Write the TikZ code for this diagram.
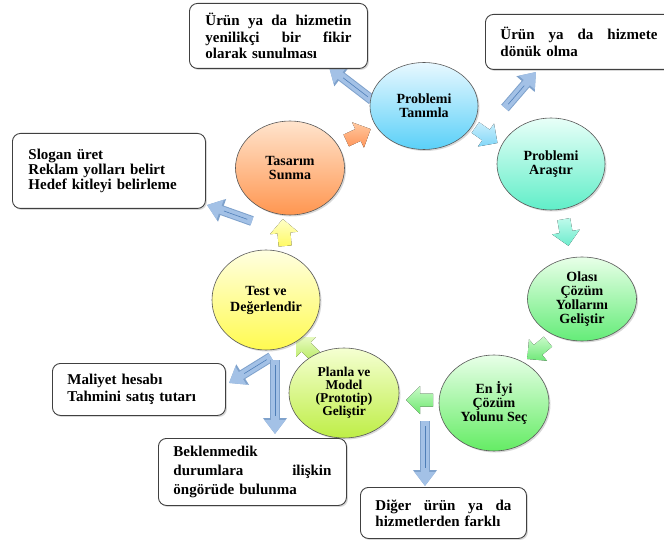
\documentclass[tikz,border=0pt]{standalone}
\usepackage{fontspec}
\setmainfont{Liberation Serif}
\usetikzlibrary{shapes.geometric,shadows,arrows.meta,calc}
\newcommand{\jline}[1]{{\spaceskip=0.3333em plus 1fil\relax\makebox[\hsize][s]{#1}}}
\definecolor{arrowfill}{HTML}{A3C1E6}
\definecolor{arrowedge}{HTML}{7FA2CC}
\definecolor{arrowcenter}{HTML}{4F7FB8}
\tikzset{
  ell/.style={ellipse, draw=black!65, line width=0.6pt, align=center,
    font=\fontsize{14}{14}\selectfont\bfseries, inner sep=0pt,
    drop shadow={shadow xshift=1.5pt, shadow yshift=-1.5pt, opacity=0.3}},
  infobox/.style={draw=black!75, line width=0.9pt, rounded corners=8pt, fill=white,
    align=left, anchor=north west, inner ysep=3pt,
    font=\fontsize{15}{16.5}\selectfont\bfseries,
    drop shadow={shadow xshift=1.5pt, shadow yshift=-1.5pt, opacity=0.3}},
  bigarrow/.style={line width=10pt, arrowedge, -{Triangle[width=23pt,length=16pt]}},
  bigarrowin/.style={line width=8pt, arrowfill, -{Triangle[width=20pt,length=14pt]}},
  fatarrow/.pic={\fill[pic actions] (-13,-6.5) -- (0,-6.5) -- (0,-14) -- (14,0) -- (0,14) -- (0,6.5) -- (-13,6.5) -- cycle;}
}
\newcommand{\blockarrow}[2]{%
  \draw[bigarrow] (#1) -- (#2);
  \draw[bigarrowin] (#1) -- (#2);
  \draw[arrowcenter, line width=0.6pt, shorten <=5pt, shorten >=18pt] (#1) -- (#2);}
\begin{document}
\begin{tikzpicture}[x=1pt,y=-1pt]
\fill[white] (0,0) rectangle (664,545);
\useasboundingbox (0,0) rectangle (664,545);

% arrow end coordinates
\coordinate (aT) at (372,100); \coordinate (aH) at (329,67);
\coordinate (bT) at (505,108); \coordinate (bH) at (536,72);
\coordinate (cT) at (252,221); \coordinate (cH) at (207,205);
\coordinate (dT) at (271,357); \coordinate (dH) at (229,383);
\coordinate (eT) at (275,360); \coordinate (eH) at (275,434);
\coordinate (fT) at (425,421); \coordinate (fH) at (425,486);

\blockarrow{aT}{aH}
\blockarrow{bT}{bH}
\blockarrow{cT}{cH}
\blockarrow{dT}{dH}
\blockarrow{eT}{eH}
\blockarrow{fT}{fH}

% small cycle arrows
\pic[top color={rgb,255:red,255;green,200;blue,160}, bottom color={rgb,255:red,255;green,150;blue,90}, rotate=25] at (358,135) {fatarrow};
\pic[top color={rgb,255:red,200;green,238;blue,252}, bottom color={rgb,255:red,130;green,215;blue,248}, rotate=-35] at (486,135) {fatarrow};
\pic[top color={rgb,255:red,190;green,250;blue,235}, bottom color={rgb,255:red,110;green,236;blue,205}, rotate=-80] at (566,232) {fatarrow};
\pic[top color={rgb,255:red,200;green,250;blue,200}, bottom color={rgb,255:red,110;green,232;blue,120}, rotate=-140] at (538,350) {fatarrow};
\pic[top color={rgb,255:red,200;green,250;blue,200}, bottom color={rgb,255:red,110;green,232;blue,110}, rotate=180] at (420,400) {fatarrow};
\pic[top color={rgb,255:red,230;green,250;blue,190}, bottom color={rgb,255:red,185;green,235;blue,100}, rotate=135] at (306,347) {fatarrow};
\pic[top color={rgb,255:red,255;green,255;blue,200}, bottom color={rgb,255:red,255;green,250;blue,100}, rotate=95] at (284,233) {fatarrow};

% ellipses
\node[ell, minimum width=108pt, minimum height=87pt, top color={rgb,255:red,232;green,248;blue,255}, bottom color={rgb,255:red,90;green,208;blue,248}] (tan) at (424,106) {Problemi\\Tanımla};
\node[ell, minimum width=108pt, minimum height=92pt, top color={rgb,255:red,232;green,255;blue,248}, bottom color={rgb,255:red,96;green,238;blue,200}] (ara) at (551,164) {Problemi\\Araştır};
\node[ell, minimum width=109pt, minimum height=84pt, top color={rgb,255:red,232;green,255;blue,232}, bottom color={rgb,255:red,100;green,236;blue,120}] (ola) at (582,299) {Olası\\Çözüm\\Yollarını\\Geliştir};
\node[ell, minimum width=110pt, minimum height=96pt, top color={rgb,255:red,232;green,255;blue,232}, bottom color={rgb,255:red,100;green,236;blue,100}] (eni) at (494,403) {En İyi\\Çözüm\\Yolunu Seç};
\node[ell, minimum width=110pt, minimum height=90pt, top color={rgb,255:red,245;green,255;blue,210}, bottom color={rgb,255:red,190;green,238;blue,70}, font=\fontsize{13.5}{13}\selectfont\bfseries] (pla) at (344,393) {Planla ve\\Model\\(Prototip)\\Geliştir};
\node[ell, minimum width=108pt, minimum height=100pt, top color={rgb,255:red,255;green,255;blue,225}, bottom color={rgb,255:red,255;green,250;blue,80}, font=\fontsize{14}{16}\selectfont\bfseries] (tes) at (266,300) {Test ve\\Değerlendir};
\node[ell, minimum width=109pt, minimum height=94pt, top color={rgb,255:red,255;green,228;blue,205}, bottom color={rgb,255:red,255;green,150;blue,80}] (tas) at (290,168) {Tasarım\\Sunma};

% boxes
\node[infobox, text width=146pt, inner xsep=16pt, minimum height=65pt] (b1) at (189,3)
  {\jline{Ürün ya da hizmetin}\\\jline{yenilikçi bir fikir}\\olarak sunulması};
\node[infobox, text width=157pt, inner xsep=15pt, minimum height=55pt, font=\fontsize{15}{17.5}\selectfont\bfseries] (b2) at (485,14)
  {\jline{Ürün ya da hizmete}\\dönük olma};
\node[infobox, text width=161pt, inner xsep=16pt, minimum height=75pt, font=\fontsize{15}{15}\selectfont\bfseries] (b3) at (12,133)
  {Slogan üret\\Reklam yolları belirt\\Hedef kitleyi belirleme};
\node[infobox, text width=143pt, inner xsep=15pt, minimum height=52pt, font=\fontsize{15}{17}\selectfont\bfseries] (b4) at (52,363)
  {Maliyet hesabı\\Tahmini satış tutarı};
\node[infobox, text width=158pt, inner xsep=15pt, minimum height=67pt, font=\fontsize{15}{19}\selectfont\bfseries] (b5) at (158,438)
  {Beklenmedik\\\jline{durumlara ilişkin}\\öngörüde bulunma};
\node[infobox, text width=136pt, inner xsep=15pt, minimum height=51pt, font=\fontsize{15}{16}\selectfont\bfseries] (b6) at (360,487)
  {\jline{Diğer ürün ya da}\\hizmetlerden farklı};
\end{tikzpicture}
\end{document}
